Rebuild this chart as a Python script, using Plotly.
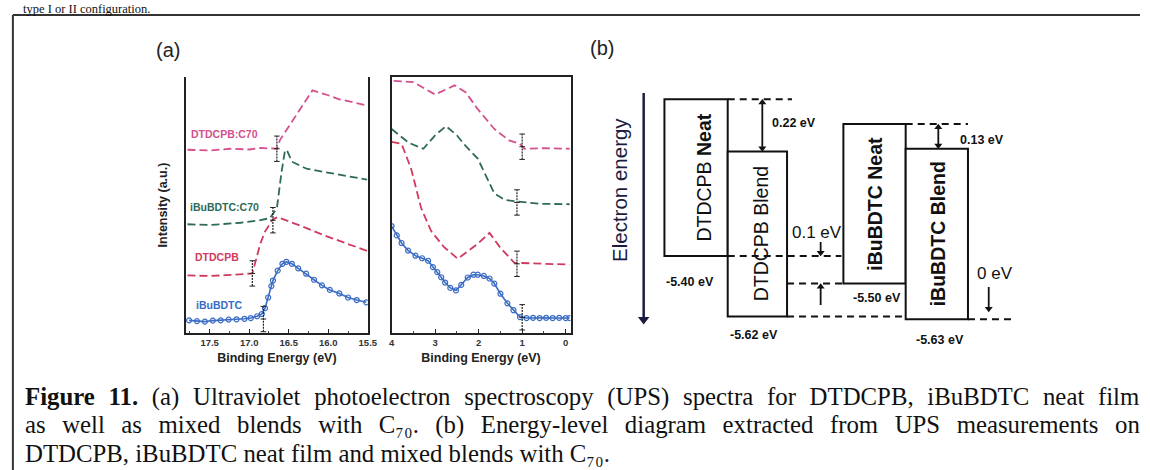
import plotly.graph_objects as go

W, H = 1150, 470

# ---------------- data: UPS spectra, cut-off region (left panel) ----------------
ev_lo_pink = [17.78, 17.5, 17.24, 17.0, 16.86, 16.70, 16.65, 16.61, 16.49, 16.36, 16.20, 16.0, 15.86, 15.51]
int_lo_pink = [72.3, 72.0, 72.7, 72.4, 73.0, 72.6, 72.7, 76.2, 82.0, 88.3, 95.7, 93.8, 92.2, 89.8]

ev_lo_green = [17.78, 17.5, 17.11, 16.86, 16.74, 16.65, 16.59, 16.55, 16.525, 16.46, 16.275, 16.05, 15.86, 15.51]
int_lo_green = [42.9, 42.6, 43.5, 44.5, 45.3, 49.2, 63.7, 71.5, 72.3, 67.6, 64.8, 63.5, 62.5, 60.5]

ev_lo_red = [17.78, 17.5, 17.3, 16.96, 16.93, 16.86, 16.80, 16.70, 16.64, 16.45, 16.275, 16.05, 15.86, 15.51]
int_lo_red = [22.7, 22.5, 22.8, 23.5, 27.0, 35.2, 40.0, 44.9, 45.7, 43.5, 41.4, 38.5, 36.3, 32.4]

ev_lo_blue = [17.76, 17.66, 17.56, 17.46, 17.36, 17.26, 17.16, 17.06, 16.98, 16.90, 16.84, 16.80, 16.76,
              16.72, 16.70, 16.64, 16.58, 16.53, 16.46, 16.38, 16.28, 16.18, 16.08, 15.98, 15.86, 15.75,
              15.64, 15.52]
int_lo_blue = [5.0, 4.7, 4.5, 4.9, 5.0, 5.3, 5.4, 5.6, 5.9, 6.6, 7.5, 9.8, 14.0,
               18.5, 20.7, 24.6, 27.3, 28.1, 27.3, 25.5, 23.4, 21.0, 18.8, 17.0, 15.6, 14.0,
               13.0, 12.1]

# ---------------- data: UPS spectra, HOMO region (right panel) ----------------
ev_hi_pink = [3.95, 3.5, 3.0, 2.55, 2.3, 2.02, 1.64, 1.3, 1.05, 0.95, 0.5, -0.09]
int_hi_pink = [99.5, 99.0, 94.1, 97.7, 95.0, 88.3, 80.5, 76.0, 74.6, 72.7, 72.9, 72.7]

ev_hi_green = [4.0, 3.6, 3.27, 3.0, 2.75, 2.5, 2.32, 2.02, 1.64, 1.4, 1.18, 0.6, -0.09]
int_hi_green = [80.5, 75.0, 72.7, 78.0, 81.6, 78.0, 74.2, 68.8, 55.1, 52.5, 52.0, 51.0, 50.8]

ev_hi_red = [4.0, 3.77, 3.55, 3.32, 3.09, 2.8, 2.48, 2.02, 1.75, 1.5, 1.18, 0.6, -0.09]
int_hi_red = [75.4, 74.6, 64.8, 49.2, 40.2, 34.0, 29.3, 35.2, 39.5, 33.6, 27.7, 27.3, 27.0]

ev_hi_blue = [4.0, 3.88, 3.77, 3.62, 3.45, 3.30, 3.16, 3.05, 2.95, 2.86, 2.77, 2.65, 2.52, 2.40, 2.25,
              2.12, 2.02, 1.88, 1.75, 1.64, 1.50, 1.34, 1.20, 1.05, 0.90, 0.75, 0.60, 0.45, 0.30, 0.15, 0.0, -0.09]
int_hi_blue = [42.2, 38.5, 35.5, 32.5, 30.5, 29.5, 28.5, 26.0, 24.0, 22.0, 19.9, 17.8, 16.8, 19.0, 21.9,
               23.0, 23.0, 22.5, 21.5, 19.5, 15.5, 11.7, 9.0, 6.3, 5.9, 6.0, 5.9, 6.0, 5.9, 6.0, 5.9, 5.9]

# onset markers (binding energy, intensity)
onset_lo_ev = [16.65, 16.70, 16.96, 16.82]
onset_lo_int = [72.7, 44.5, 23.5, 5.5]
onset_hi_ev = [1.0, 1.12, 1.12, 1.0]
onset_hi_int = [73.5, 51.5, 27.3, 6.2]

series_names = ["DTDCPB:C70", "iBuBDTC:C70", "DTDCPB", "iBuBDTC"]
series_colors = ["#d4508e", "#2f6a55", "#cf3a5e", "#3a6cc4"]

x_ticks_lo = [17.5, 17.0, 16.5, 16.0, 15.5]
x_ticks_hi = [4, 3, 2, 1, 0]

# ---------------- data: energy-level diagram ----------------
box_labels = ["DTDCPB <b>Neat</b>", "DTDCPB Blend", "<b>iBuBDTC Neat</b>", "<b>iBuBDTC Blend</b>"]
box_homo = [-5.40, -5.62, -5.50, -5.63]          # box bottoms (eV)
box_top = [-4.83, -5.02, -4.92, -5.01]           # schematic box tops
homo_text = ["-5.40 eV", "-5.62 eV", "-5.50 eV", "-5.63 eV"]
shift_text = ["0.22 eV", "0.13 eV"]
offset_text = ["0.1 eV", "0 eV"]

# ---------------- layout helpers (pixel -> paper / diagram coordinates) ----------------
def px(x):
    return x / W

def py(y):
    return 1 - y / H

E_REF, Y_REF, PX_PER_EV = -5.40, 256.0, 275.0

def ey(ypix):
    return E_REF - (ypix - Y_REF) / PX_PER_EV

def note(x, y, text, font, angle=0, xa="center", ya="middle"):
    fig.add_annotation(x=px(x), y=py(y), xref="paper", yref="paper", text=text, textangle=angle,
                       showarrow=False, xanchor=xa, yanchor=ya, font=font)

fig = go.Figure()

dash = "8px,4px"
lo_sets = [(ev_lo_pink, int_lo_pink), (ev_lo_green, int_lo_green), (ev_lo_red, int_lo_red), (ev_lo_blue, int_lo_blue)]
hi_sets = [(ev_hi_pink, int_hi_pink), (ev_hi_green, int_hi_green), (ev_hi_red, int_hi_red), (ev_hi_blue, int_hi_blue)]

for i, ((xl, yl), (xh, yh)) in enumerate(zip(lo_sets, hi_sets)):
    c = series_colors[i]
    if i == 3:
        kw = dict(mode="lines+markers", line=dict(color=c, width=1.6),
                  marker=dict(symbol="circle-open", size=5, color=c, line=dict(width=1.2)))
    else:
        kw = dict(mode="lines", line=dict(color=c, width=1.8, dash=dash))
    fig.add_trace(go.Scatter(x=xl, y=yl, xaxis="x", yaxis="y", showlegend=False, hoverinfo="skip", **kw))
    fig.add_trace(go.Scatter(x=xh, y=yh, xaxis="x2", yaxis="y2", showlegend=False, hoverinfo="skip", **kw))

# onset cursor marks
for evs, ints, ax_x, ax_y in [(onset_lo_ev, onset_lo_int, "x", "y"), (onset_hi_ev, onset_hi_int, "x2", "y2")]:
    for e, v in zip(evs, ints):
        fig.add_trace(go.Scatter(x=[e, e, e], y=[v - 5, v, v + 5], xaxis=ax_x, yaxis=ax_y,
                                 mode="lines+markers", showlegend=False, hoverinfo="skip",
                                 line=dict(color="#222", width=1.2, dash="2px,1px"),
                                 marker=dict(symbol="line-ew", size=4, line=dict(color="#222", width=1))))

# series labels in left panel
lab_pos = [(224, 134), (224, 207), (216, 257), (218, 305)]
for i, (lx, ly) in enumerate(lab_pos):
    note(lx, ly, series_names[i], dict(family="Liberation Sans, Arial", size=10.5,
                                       color=series_colors[i], weight="bold"))

tickfont = dict(family="Liberation Sans, Arial", size=9.5, color="#333", weight="bold")
lab_font = dict(family="Liberation Sans, Arial", size=12.5, color="#222", weight="bold")
ydom = [py(333), py(77)]
common_x = dict(showline=True, linecolor="#222", linewidth=1.5, ticks="inside", ticklen=4,
                tickcolor="#222", showgrid=False, zeroline=False, tickfont=tickfont,
                minor=dict(ticks="inside", ticklen=2, tickcolor="#444"),
                title=dict(text="Binding Energy (eV)", font=lab_font, standoff=6))
fig.update_layout(
    width=W, height=H, margin=dict(l=0, r=0, t=0, b=0),
    paper_bgcolor="white", plot_bgcolor="rgba(0,0,0,0)",
    xaxis=dict(domain=[px(185), px(369)], range=[17.8, 15.5], anchor="y",
               tickvals=x_ticks_lo, ticktext=["%.1f" % t for t in x_ticks_lo],
               minor_dtick=0.25, **common_x),
    yaxis=dict(domain=ydom, range=[0, 101], anchor="x", showline=True, mirror=True, linecolor="#222",
               linewidth=1.5, showticklabels=False, ticks="", showgrid=False, zeroline=False,
               title=dict(text="Intensity (a.u.)", font=lab_font, standoff=14)),
    xaxis2=dict(domain=[px(393), px(574)], range=[4, -0.11], anchor="y2", mirror=True,
                tickvals=x_ticks_hi, ticktext=[str(t) for t in x_ticks_hi], minor_dtick=0.5, **common_x),
    yaxis2=dict(domain=ydom, range=[0, 101], anchor="x2", showline=True, mirror=True, linecolor="#222",
                linewidth=1.5, showticklabels=False, ticks="", showgrid=False, zeroline=False),
    xaxis3=dict(domain=[0, 1], range=[0, W], anchor="y3", visible=False),
    yaxis3=dict(domain=[0, 1], range=[ey(H), ey(0)], anchor="x3", visible=False),
)

# panel letters
note(167, 50, "(a)", dict(family="Liberation Sans, Arial", size=20, color="#222"))
note(606, 48, "(b)", dict(family="Liberation Sans, Arial", size=20, color="#222"))

# ---------------- energy-level diagram ----------------
box_x = [(669, 733), (733, 793), (850, 913), (913, 976)]
text_x = [709, 767, 882, 946]
for i, (x0, x1) in enumerate(box_x):
    fig.add_shape(type="rect", xref="x3", yref="y3", x0=x0, x1=x1, y0=box_homo[i], y1=box_top[i],
                  line=dict(color="#111", width=2), fillcolor="white", layer="below")
    mid = (box_homo[i] + box_top[i]) / 2
    fig.add_annotation(x=text_x[i], y=mid, xref="x3", yref="y3", text=box_labels[i], textangle=-90,
                       showarrow=False, xanchor="center", yanchor="middle",
                       font=dict(family="Liberation Sans, Arial", size=19.5, color="#111"))

# dashed reference levels
dashed = [(733, 798, box_top[0]), (733, 848, box_homo[0]), (793, 850, box_homo[2]),
          (793, 913, box_homo[1]), (976, 1023, box_homo[3]), (913, 976, box_top[2])]
for x0, x1, yv in dashed:
    fig.add_shape(type="line", xref="x3", yref="y3", x0=x0, x1=x1, y0=yv, y1=yv,
                  line=dict(color="#111", width=2, dash="7px,5px"))


def arrow(xa, y_tail, y_head, color="#111", width=1.8, size=7, double=False):
    """Vertical arrow in diagram coordinates drawn as a line plus triangle heads."""
    off = (size * 0.45) / PX_PER_EV
    down = y_head < y_tail
    sym_head = "triangle-down" if down else "triangle-up"
    sym_tail = "triangle-up" if down else "triangle-down"
    hy = y_head + off if down else y_head - off
    ty = y_tail - off if down else y_tail + off
    fig.add_trace(go.Scatter(x=[xa, xa], y=[y_tail if not double else ty, hy], xaxis="x3", yaxis="y3",
                             mode="lines", line=dict(color=color, width=width),
                             showlegend=False, hoverinfo="skip"))
    xs, ys, syms = [xa], [hy], [sym_head]
    if double:
        xs.append(xa)
        ys.append(ty)
        syms.append(sym_tail)
    fig.add_trace(go.Scatter(x=xs, y=ys, xaxis="x3", yaxis="y3", mode="markers",
                             marker=dict(symbol=syms, size=size, color=color, line=dict(width=0)),
                             showlegend=False, hoverinfo="skip"))


small_bold = dict(family="Liberation Sans, Arial", size=12.5, color="#111", weight="bold")
# HOMO labels
homo_pos = [(695, 282), (760, 335), (884, 298), (948, 340)]
for i, (lx, ly) in enumerate(homo_pos):
    note(lx, ly, homo_text[i], small_bold)

# vacuum-level shift double arrows
arrow(768, box_top[0], box_top[1], double=True)
note(800, 123, shift_text[0], small_bold)
arrow(946, box_top[2], box_top[3], double=True)
note(990, 140, shift_text[1], small_bold)

# offset arrows
arrow(827, ey(242), box_homo[0])
arrow(827, ey(305), box_homo[2])
arrow(997, ey(287), ey(312))
big_font = dict(family="Liberation Sans, Arial", size=17, color="#111")
note(823, 232, offset_text[0], big_font)
note(1003, 273, offset_text[1], big_font)

# electron energy axis
arrow(648, ey(93), ey(324), color="#1c1c40", width=2.5, size=10)
note(623, 190, "Electron energy", dict(family="Liberation Sans, Arial", size=20.5, color="#1c1c40"),
     angle=-90)

# ---------------- frame and caption ----------------
fig.add_shape(type="line", xref="paper", yref="paper", x0=px(10), x1=1, y0=py(15), y1=py(15),
              line=dict(color="#333", width=2))
fig.add_shape(type="line", xref="paper", yref="paper", x0=px(10), x1=px(10), y0=py(15), y1=0,
              line=dict(color="#333", width=2))

serif = dict(family="Liberation Serif, Times New Roman", size=24.8, color="#111")
note(18, 0, "type I or II configuration.", dict(family="Liberation Serif, Times New Roman", size=12.5,
                                               color="#111"), xa="left", ya="top")


def sp(text, ws, bold=False):
    style = "word-spacing:%.1fpx" % ws
    if bold:
        style += ";font-weight:bold"
    return '<span style="%s">%s</span>' % (style, text)


cap1 = sp("Figure 11.", 7.5, bold=True) + sp(
    " (a) Ultraviolet photoelectron spectroscopy (UPS) spectra for DTDCPB, iBuBDTC neat film", 7.5)
cap2 = sp("as well as mixed blends with C\u2087\u2080. (b) Energy-level diagram extracted from UPS measurements on",
          10.3)
cap3 = "DTDCPB, iBuBDTC neat film and mixed blends with C\u2087\u2080."
note(20, 397, cap1, serif, xa="left")
note(20, 425, cap2, serif, xa="left")
note(20, 453, cap3, serif, xa="left")

fig.write_html("out.html")
